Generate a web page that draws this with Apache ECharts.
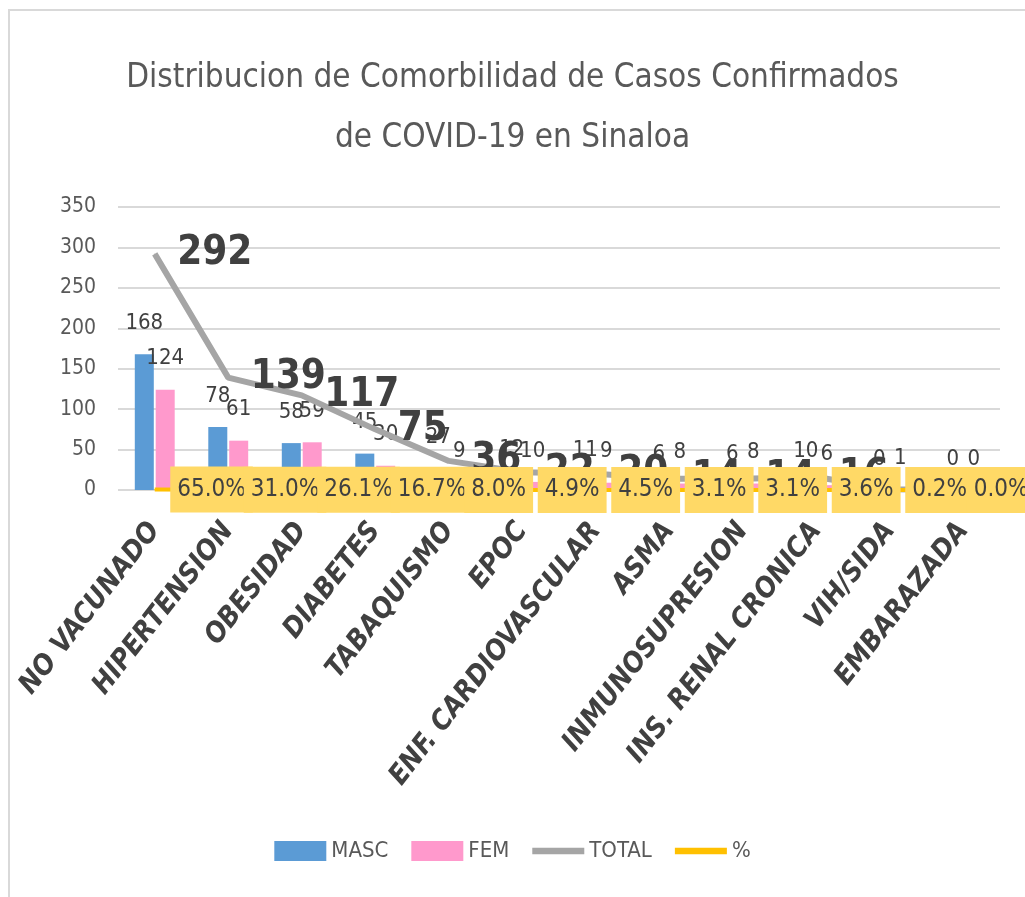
<!DOCTYPE html>
<html><head><meta charset="utf-8">
<script src="https://cdn.jsdelivr.net/npm/echarts@6/dist/echarts.min.js"></script>
<style>html,body{margin:0;padding:0;background:#fff}#c{width:1025px;height:897px}</style>
</head><body><div id="c"></div>
<script>
const categories = ['NO VACUNADO','HIPERTENSION','OBESIDAD','DIABETES','TABAQUISMO','EPOC','ENF. CARDIOVASCULAR','ASMA','INMUNOSUPRESION','INS. RENAL CRONICA','VIH/SIDA','EMBARAZADA'];
const masc = [168,78,58,45,27,12,11,6,6,10,0,0];
const fem = [124,61,59,30,9,10,9,8,8,6,1,0];
const total = [292,139,117,75,36,22,20,14,14,16,1,0];
const pct = [0.650,0.310,0.261,0.167,0.080,0.049,0.045,0.031,0.031,0.036,0.002,0.000];
const yTicks = [0,50,100,150,200,250,300,350];

const FONT = '"DejaVu Sans Condensed","Liberation Sans Narrow",Roboto,sans-serif';
const LINE_ICON = 'path://M0,0 M0,6.5 L56,6.5 L56,13.5 L0,13.5 Z M56,20';
const chart = echarts.init(document.getElementById('c'));
chart.setOption({
  animation:false,
  textStyle:{fontFamily:FONT},
  title:{text:'Distribucion de Comorbilidad de Casos Confirmados\nde COVID-19 en Sinaloa',left:'center',top:43,
    textStyle:{fontFamily:FONT,fontSize:33,fontWeight:'normal',color:'#595959',lineHeight:60}},
  graphic:[{type:'rect',shape:{x:9,y:10,width:1030,height:900},style:{fill:'none',stroke:'#D9D9D9',lineWidth:2},silent:true}],
  legend:{bottom:30,left:'center',itemGap:23,itemWidth:52,itemHeight:20,
    textStyle:{fontFamily:FONT,fontSize:22,color:'#595959'},
    data:[{name:'MASC',icon:'rect'},{name:'FEM',icon:'rect'},
          {name:'TOTAL',icon:LINE_ICON,itemStyle:{color:'#A5A5A5'}},
          {name:'%',icon:LINE_ICON,itemStyle:{color:'#FFC000'}}]},
  grid:{left:118,right:25,top:207,bottom:407,containLabel:false},
  xAxis:{type:'category',data:categories,
    axisLine:{show:false},axisTick:{show:false},
    axisLabel:{interval:0,rotate:52,margin:36,fontFamily:FONT,fontSize:28,fontWeight:'bold',fontStyle:'italic',color:'#404040'}},
  yAxis:{type:'value',min:yTicks[0],max:yTicks[yTicks.length-1],interval:50,
    axisLine:{show:false},axisTick:{show:false},
    axisLabel:{margin:22,fontFamily:FONT,fontSize:21,color:'#595959'},
    splitLine:{lineStyle:{color:'#D9D9D9',width:2}}},
  series:[
    {name:'MASC',type:'bar',data:masc,barWidth:19,barGap:'10%',itemStyle:{color:'#5B9BD5'},
     label:{show:true,position:'top',distance:20,fontFamily:FONT,fontSize:22,color:'#404040'}},
    {name:'FEM',type:'bar',data:fem,barWidth:19,itemStyle:{color:'#FF99CC'},
     label:{show:true,position:'top',distance:20,fontFamily:FONT,fontSize:22,color:'#404040'}},
    {name:'TOTAL',type:'line',symbol:'circle',symbolSize:1,showSymbol:true,z:3,data:total,
     lineStyle:{color:'#A5A5A5',width:6},itemStyle:{color:'#A5A5A5'},
     label:{show:true,position:'right',distance:22,fontFamily:FONT,fontSize:40,fontWeight:'bold',color:'#404040'}},
    {name:'%',type:'line',symbol:'circle',symbolSize:1,showSymbol:true,z:10,
     data:pct.map((v,i)=>i===pct.length-1?{value:v,label:{offset:[-12,0]}}:v),
     lineStyle:{color:'#FFC000',width:4},itemStyle:{color:'#FFC000'},
     label:{show:true,position:'right',distance:15,fontFamily:FONT,fontSize:24,color:'#404040',
       backgroundColor:'#FFD966',padding:[11,7],
       formatter:p=>(p.value*100).toFixed(1)+'%'}}
  ]
});
</script></body></html>
